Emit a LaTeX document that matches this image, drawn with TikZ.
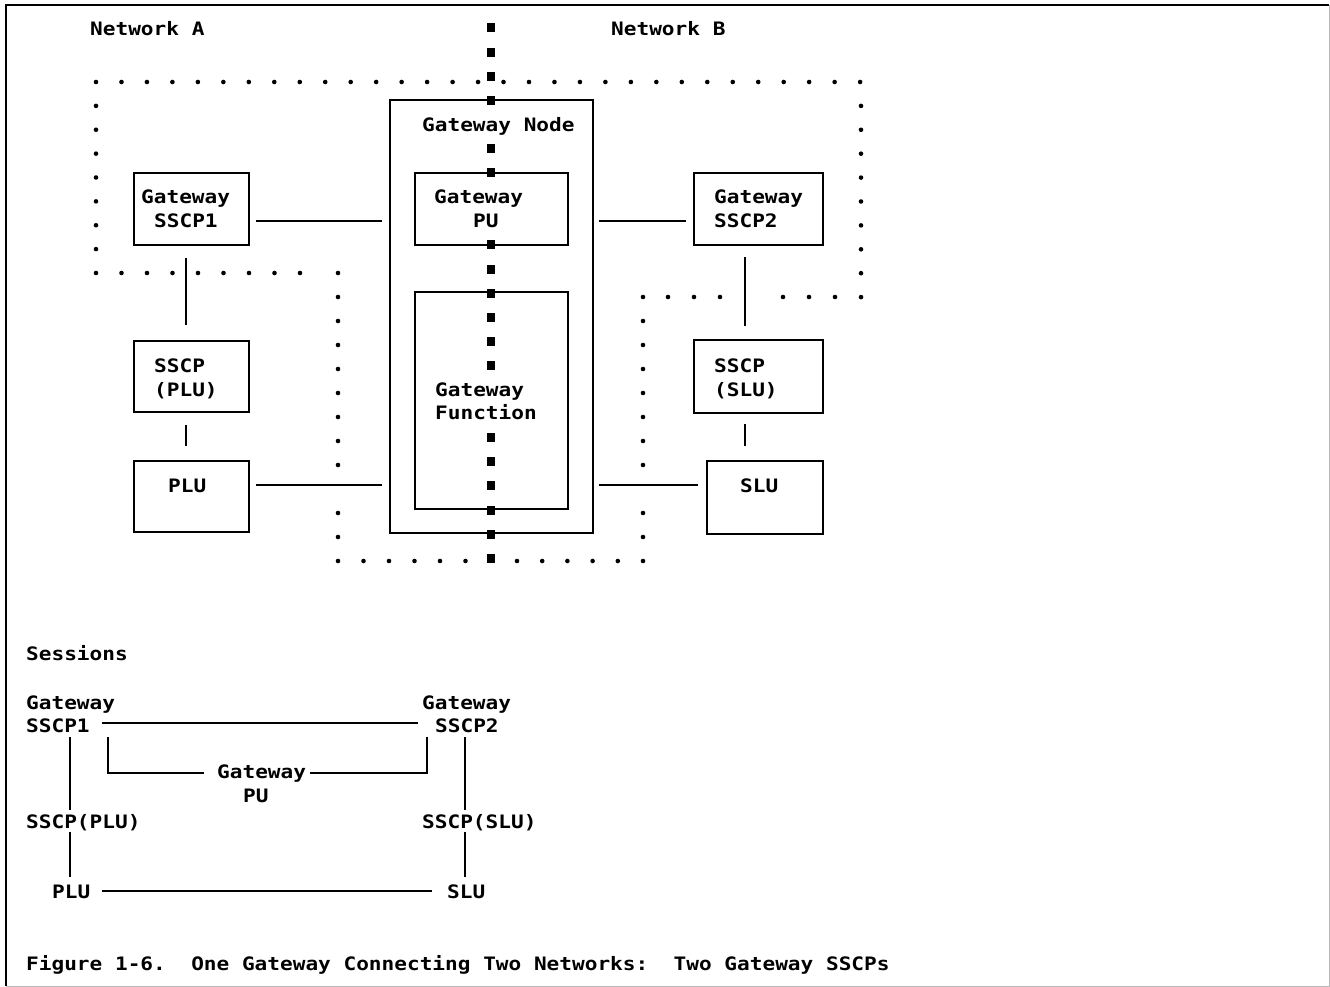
\documentclass[tikz,border=0pt]{standalone}
\usepackage{fontspec}
\newfontfamily\ibm[FakeStretch=1.14]{DejaVu Sans Mono Bold}
\usetikzlibrary{calc}
\frenchspacing
\begin{document}
\begin{tikzpicture}[x=1pt,y=-1pt,
  box/.style={draw, line width=1.8pt, inner sep=0pt},
  lbl/.style={anchor=base west, inner sep=0pt, font=\ibm\fontsize{18.5}{22}\selectfont},
  conn/.style={line width=1.7pt},
  dot/.style={black},
]
\useasboundingbox (0,0) rectangle (1330,987);

% page frame
\draw[line width=2.4pt] (6,986) -- (6,5) -- (1329,5);
\draw[gray!55, line width=0.8pt] (1329,5) -- (1329,986) -- (6,986);

% network labels
\node[lbl] (netA) at (90,36) {Network A};
\node[lbl] (netB) at (611,36) {Network B};

% boxes
\node[box, minimum width=203pt, minimum height=433pt] (gwnode) at (491.5,316.5) {};
\node[box, minimum width=153pt, minimum height=72pt]  (gwpu)   at (491.5,209) {};
\node[box, minimum width=153pt, minimum height=217pt] (gwfn)   at (491.5,400.5) {};
\node[box, minimum width=115pt, minimum height=72pt]  (sscp1)  at (191.5,209) {};
\node[box, minimum width=129pt, minimum height=72pt]  (sscp2)  at (758.5,209) {};
\node[box, minimum width=115pt, minimum height=71pt]  (sscpplu) at (191.5,376.5) {};
\node[box, minimum width=115pt, minimum height=71pt]  (plu)    at (191.5,496.5) {};
\node[box, minimum width=129pt, minimum height=73pt]  (sscpslu) at (758.5,376.5) {};
\node[box, minimum width=116pt, minimum height=73pt]  (slu)    at (765,497.5) {};

% box texts
\node[lbl] (tnode) at (422,132) {Gateway Node};
\node[lbl] (tpu1) at (434,204) {Gateway};
\node[lbl] (tpu2) at (473,228) {PU};
\node[lbl] (tfn1) at (435,396) {Gateway};
\node[lbl] (tfn2) at (435,419) {Function};
\node[lbl] (ts11) at (141,204) {Gateway};
\node[lbl] (ts12) at (154,228) {SSCP1};
\node[lbl] (ts21) at (714,204) {Gateway};
\node[lbl] (ts22) at (714,228) {SSCP2};
\node[lbl] (tpl1) at (154,372) {SSCP};
\node[lbl] (tpl2) at (154,396) {(PLU)};
\node[lbl] (tplu) at (168,492) {PLU};
\node[lbl] (tsl1) at (714,372) {SSCP};
\node[lbl] (tsl2) at (714,396) {(SLU)};
\node[lbl] (tslu) at (740,492) {SLU};

% helper levels for connectors
\coordinate (rowA) at (0,221);
\coordinate (rowB) at (0,485);
\coordinate (colL) at (186,0);
\coordinate (colR) at (745,0);

% connectors between boxes
\draw[conn, shorten <=6pt, shorten >=7pt] (sscp1.east |- rowA) -- (gwnode.west |- rowA);
\draw[conn, shorten <=5pt, shorten >=7pt] (gwnode.east |- rowA) -- (sscp2.west |- rowA);
\draw[conn, shorten <=6pt, shorten >=7pt] (plu.east |- rowB) -- (gwnode.west |- rowB);
\draw[conn, shorten <=5pt, shorten >=8pt] (gwnode.east |- rowB) -- (slu.west |- rowB);
\draw[conn, shorten <=12pt, shorten >=15pt] (sscp1.south -| colL) -- (sscpplu.north -| colL);
\draw[conn, shorten <=12pt, shorten >=14pt] (sscpplu.south -| colL) -- (plu.north -| colL);
\draw[conn, shorten <=11pt, shorten >=13pt] (sscp2.south -| colR) -- (sscpslu.north -| colR);
\draw[conn, shorten <=10pt, shorten >=14pt] (sscpslu.south -| colR) -- (slu.north -| colR);

% dotted network outline
\foreach \i in {0,...,30} \fill[dot] ({96+\i*25.47},82) circle[radius=2.3];
\foreach \i in {1,...,8} \fill[dot] (96,{82+\i*23.875}) circle[radius=2.3];
\foreach \i in {1,...,8} \fill[dot] ({96+\i*25.5},273) circle[radius=2.3];
\foreach \k in {0,1,2,3,4,5,6,7,8,10,11,12} \fill[dot] (338,{273+\k*24}) circle[radius=2.3];
\foreach \i in {1,...,5} \fill[dot] ({338+\i*25.5},561) circle[radius=2.3];
\foreach \i in {0,...,5} \fill[dot] ({517+\i*25.2},561) circle[radius=2.3];
\foreach \k in {0,1,2,3,4,5,6,7,9,10} \fill[dot] (643,{297+\k*24}) circle[radius=2.3];
\foreach \x in {668,694,720,783,809,835} \fill[dot] (\x,297) circle[radius=2.3];
\foreach \i in {1,...,9} \fill[dot] (861,{82+\i*23.9}) circle[radius=2.3];

% network boundary through the gateway
\foreach \k in {0,1,2,3,5,6,9,10,11,12,13,14,17,18,19,20,21,22}
  \fill ({491-4.25},{28+24.1*\k-4.5}) rectangle ++(8.5,9);

% sessions
\node[lbl] (sess) at (26,660) {Sessions};
\node[lbl] (sgwA) at (26,709) {Gateway};
\node[lbl] (ssscp1) at (26,732) {SSCP1};
\node[lbl] (sgwB) at (422,709) {Gateway};
\node[lbl] (ssscp2) at (435,732) {SSCP2};
\node[lbl] (spugw) at (217,778) {Gateway};
\node[lbl] (spu) at (243,802) {PU};
\node[lbl] (ssplu) at (26,828) {SSCP(PLU)};
\node[lbl] (splu) at (52,898) {PLU};
\node[lbl] (ssslu) at (422,828) {SSCP(SLU)};
\node[lbl] (sslu) at (447,898) {SLU};

\coordinate (bracketL) at (108,737);
\coordinate (bracketR) at (427,737);
\coordinate (scolL) at (70,0);
\coordinate (scolR) at (465,0);
\coordinate (srowA) at (0,723);
\coordinate (srowB) at (0,891);

\draw[conn, shorten <=12pt, shorten >=17pt] (ssscp1.east |- srowA) -- (ssscp2.west |- srowA);
\draw[conn, shorten >=13pt] (bracketL) |- (spugw.west);
\draw[conn, shorten <=4pt] (spugw.east) -| (bracketR);
\draw[conn, shorten <=5pt, shorten >=4pt] (ssscp1.south -| scolL) -- (ssplu.north -| scolL);
\draw[conn, shorten <=1pt, shorten >=7pt] (ssplu.south -| scolL) -- (splu.north -| scolL);
\draw[conn, shorten <=5pt, shorten >=4pt] (ssscp2.south -| scolR) -- (ssslu.north -| scolR);
\draw[conn, shorten <=1pt, shorten >=7pt] (ssslu.south -| scolR) -- (sslu.north -| scolR);
\draw[conn, shorten <=12pt, shorten >=15pt] (splu.east |- srowB) -- (sslu.west |- srowB);

% caption
\node[lbl] (cap) at (26,970) {Figure 1-6.\ \ One Gateway Connecting Two Networks:\ \ Two Gateway SSCPs};
\end{tikzpicture}
\end{document}
